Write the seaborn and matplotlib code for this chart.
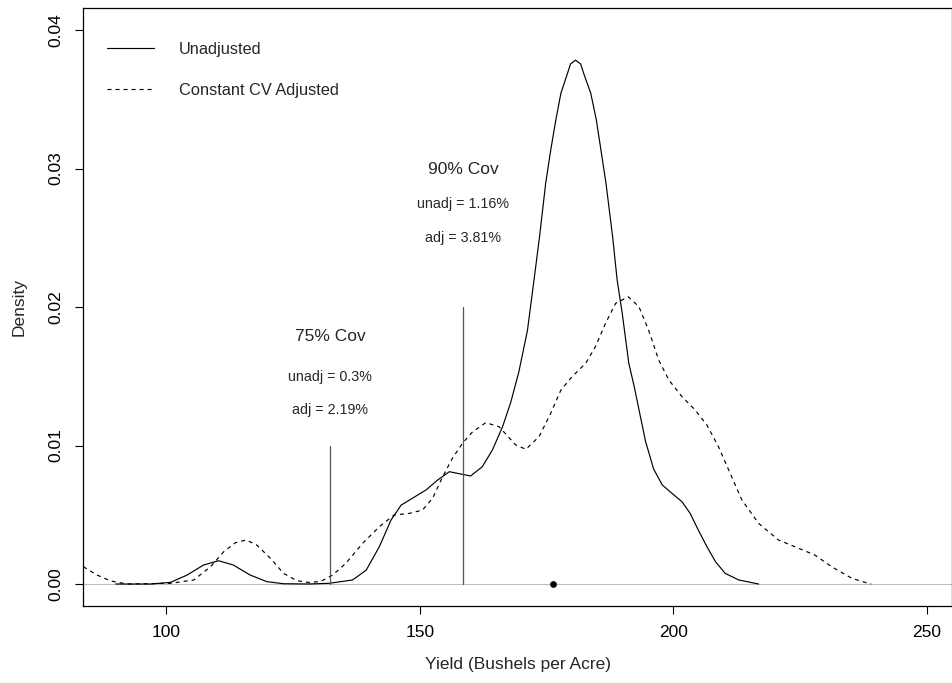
import numpy as np
import pandas as pd
import matplotlib
matplotlib.use("Agg")
import matplotlib.pyplot as plt
import seaborn as sns

# ---- data ----
unadj_x = [90, 96.9, 100.8, 104.1, 107.3, 110.3, 113.2, 116.5, 119.8, 123.1, 128, 132.1, 136.7,
           139.4, 142.0, 144.3, 146.3, 148.5, 151.2, 153.5, 155.8, 158.1, 160.0, 162.3, 164.3,
           166.3, 167.9, 169.5, 171.2, 172.5, 173.6, 174.8, 175.8, 176.8, 177.8, 179.1, 179.7,
           180.7, 181.7, 182.3, 183.7, 184.8, 185.7, 186.7, 188.0, 188.9, 189.9, 191.2, 192.3,
           193.2, 194.5, 196.1, 197.8, 199.7, 201.7, 203.3, 204.9, 206.6, 208.3, 210.2, 212.9,
           216.8]
unadj_y = [0.0, 0.0, 0.00012, 0.00065, 0.00137, 0.00168, 0.00137, 0.00065, 0.00017, 0.00002, 0.0,
           0.00005, 0.00029, 0.0010, 0.0027, 0.00462, 0.0057, 0.00619, 0.00679, 0.00751, 0.00811,
           0.00794, 0.0078, 0.00847, 0.00968, 0.01136, 0.0131, 0.0153, 0.0183, 0.02195, 0.0251,
           0.02893, 0.03134, 0.0335, 0.03543, 0.03687, 0.03755, 0.03783, 0.03755, 0.03687,
           0.03543, 0.0335, 0.03134, 0.02893, 0.0251, 0.02195, 0.01955, 0.01594, 0.0142, 0.0126,
           0.0103, 0.0083, 0.00715, 0.00655, 0.00594, 0.0051, 0.0039, 0.0027, 0.00161, 0.00077,
           0.00029, 0.0]

adj_x = [83.6, 86.3, 89.0, 92.2, 100.8, 105.4, 108.7, 111.3, 113.6, 115.7, 117.8, 120.5, 123.1,
         125.7, 128.3, 130.5, 132.8, 135.4, 138.7, 142.0, 144.9, 147.9, 150.5, 152.5, 154.5,
         156.4, 158.4, 160.4, 163.0, 165.6, 168.9, 170.9, 173.5, 175.8, 177.8, 180.0, 182.7,
         184.6, 186.6, 188.6, 191.1, 193.2, 195.1, 197.1, 199.1, 201.7, 204.3, 206.6, 208.9,
         210.9, 213.5, 216.8, 220.7, 224.7, 227.9, 231.2, 235.2, 238.4, 239.0]
adj_y = [0.00125, 0.00065, 0.00022, 0.0, 0.00005, 0.00029, 0.00125, 0.00233, 0.00298, 0.00318,
         0.00282, 0.00186, 0.00077, 0.00024, 0.0001, 0.0002, 0.00065, 0.0015, 0.00294, 0.00414,
         0.00498, 0.0051, 0.00534, 0.00619, 0.00775, 0.00908, 0.01016, 0.0110, 0.01165, 0.01136,
         0.01004, 0.00973, 0.01064, 0.01233, 0.0140, 0.01497, 0.01594, 0.01713, 0.01882, 0.02027,
         0.02074, 0.02002, 0.01834, 0.01617, 0.01473, 0.01352, 0.01256, 0.01148, 0.00991,
         0.00823, 0.00607, 0.00438, 0.00318, 0.00258, 0.00209, 0.00125, 0.00041, 0.00005, 0.0]

cov_x = [132.3, 158.5]
cov_h = [0.01, 0.02]
cov_titles = ["75% Cov", "90% Cov"]
cov_unadj = ["unadj = 0.3%", "unadj = 1.16%"]
cov_adj = ["adj = 2.19%", "adj = 3.81%"]
cov_text_y = [(0.0179, 0.01495, 0.01256), (0.0299, 0.02744, 0.02498)]

mean_x = [176.2]
mean_y = [0.0]

x_ticks = [100, 150, 200, 250]
y_ticks = [0.00, 0.01, 0.02, 0.03, 0.04]
y_ticklabels = ["0.00", "0.01", "0.02", "0.03", "0.04"]

# ---- plotting ----
sns.set_style("ticks")
plt.rcParams['font.family'] = ['Liberation Sans', 'DejaVu Sans']

fig = plt.figure(figsize=(9.53, 6.83), dpi=100)
ax = fig.add_axes([0.0874, 0.1127, 0.9113, 0.8751])

ax.axhline(0, color="#bebebe", lw=0.8, zorder=1)

sns.lineplot(x=unadj_x, y=unadj_y, ax=ax, color="black", lw=0.85,
             estimator=None, sort=False, label="Unadjusted")
sns.lineplot(x=adj_x, y=adj_y, ax=ax, color="black", lw=0.85,
             linestyle=(0, (3.4, 3.4)), estimator=None, sort=False,
             label="Constant CV Adjusted")

for xv, hv in zip(cov_x, cov_h):
    ax.plot([xv, xv], [0, hv], color="#555555", lw=0.9)

for xv, title, u, a, (ty, uy, ay) in zip(cov_x, cov_titles, cov_unadj, cov_adj, cov_text_y):
    ax.text(xv, ty, title, ha="center", va="center", fontsize=12.5)
    ax.text(xv, uy, u, ha="center", va="center", fontsize=10.3)
    ax.text(xv, ay, a, ha="center", va="center", fontsize=10.3)

sns.scatterplot(x=mean_x, y=mean_y, ax=ax, color="black", s=20, edgecolor="black", zorder=5)

ax.set_xlim(83.6, 254.9)
ax.set_ylim(-0.00159, 0.04157)
ax.set_xticks(x_ticks)
ax.set_xticklabels([str(t) for t in x_ticks])
ax.set_yticks(y_ticks)
ax.set_yticklabels(y_ticklabels, rotation=90, va="center")
ax.tick_params(axis="both", direction="out", length=6, width=0.8, labelsize=12.5, pad=8,
               color="black", labelcolor="black")
for s in ax.spines.values():
    s.set_visible(True)
    s.set_color("black")
    s.set_linewidth(0.9)

ax.set_xlabel("Yield (Bushels per Acre)", fontsize=12.5, labelpad=12)
ax.set_ylabel("Density", fontsize=12.5, labelpad=16)

ax.legend(loc="upper left", bbox_to_anchor=(0.027, 0.944), frameon=False, fontsize=11.8,
          handlelength=2.9, handletextpad=1.5, labelspacing=1.57, borderpad=0,
          borderaxespad=0)

fig.savefig("out.png", dpi=100)
